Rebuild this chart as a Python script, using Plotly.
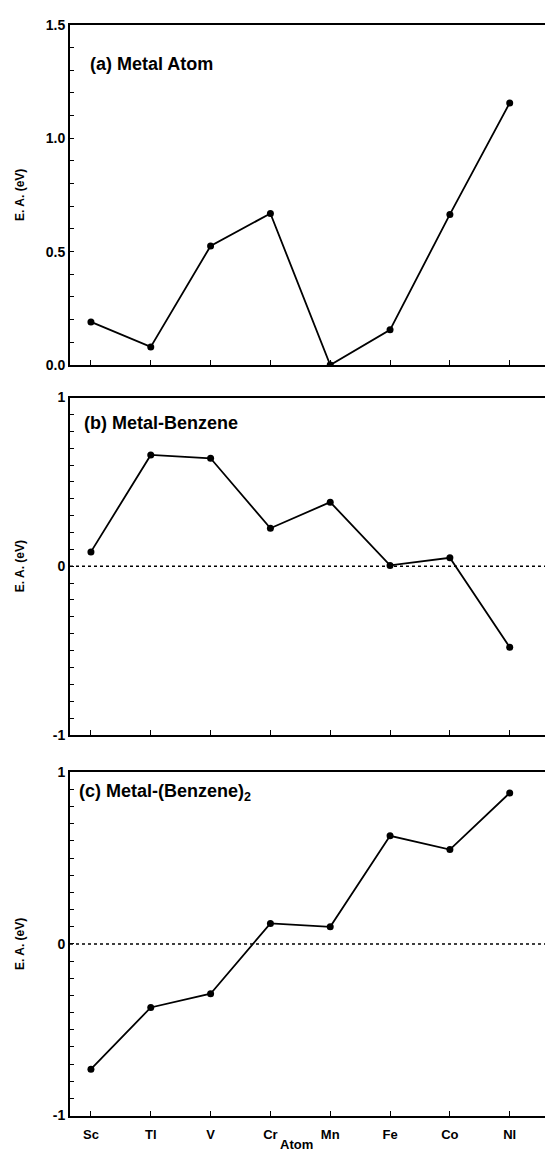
import plotly.graph_objects as go

atoms = ["Sc", "Ti", "V", "Cr", "Mn", "Fe", "Co", "Ni"]
tick_labels = ["Sc", "Tl", "V", "Cr", "Mn", "Fe", "Co", "Nl"]
ea_atom = [0.19, 0.08, 0.525, 0.668, 0.0, 0.155, 0.664, 1.155]
ea_benzene = [0.085, 0.66, 0.64, 0.225, 0.38, 0.005, 0.05, -0.48]
ea_bis = [-0.73, -0.37, -0.29, 0.12, 0.10, 0.63, 0.55, 0.88]
panel_titles = ["(a) Metal Atom", "(b) Metal-Benzene", "(c) Metal-(Benzene)<sub>2</sub>"]

# y tick positions (every 0.1) and which ones carry labels
ytick_a = [round(i * 0.1, 1) for i in range(0, 16)]
ytext_a = [f"{v:.1f}" if abs(v * 2 - round(v * 2)) < 1e-9 else "" for v in ytick_a]
ytick_bc = [round(-1 + i * 0.1, 1) for i in range(0, 21)]
ytext_bc = [str(int(round(v))) if abs(v - round(v)) < 1e-9 else "" for v in ytick_bc]

W, H = 545, 1165
FONT = "Liberation Sans, Arial, sans-serif"

def px(x):
    return x / W

def py(y):
    return 1 - y / H

boxes = [(17, 362), (395, 737), (775, 1123)]
x_left = 70
xidx = list(range(len(atoms)))

fig = go.Figure()
series = [ea_atom, ea_benzene, ea_bis]
for i, vals in enumerate(series):
    n = "" if i == 0 else str(i + 1)
    fig.add_trace(go.Scatter(
        x=xidx, y=vals, mode="lines+markers",
        line=dict(color="black", width=1.8),
        marker=dict(color="black", size=7),
        xaxis="x" + n, yaxis="y" + n, showlegend=False, hoverinfo="skip"))

layout = dict(
    width=W, height=H,
    margin=dict(l=0, r=0, t=0, b=0),
    paper_bgcolor="white", plot_bgcolor="white",
    font=dict(family=FONT, color="black", size=12),
    showlegend=False,
)

yranges = [[0, 1.5], [-1, 1], [-1, 1]]
yvals = [ytick_a, ytick_bc, ytick_bc]
ytexts = [ytext_a, ytext_bc, ytext_bc]

for i in range(3):
    n = "" if i == 0 else str(i + 1)
    top, bot = boxes[i]
    layout["xaxis" + n] = dict(
        domain=[px(x_left), 1.0],
        range=[-0.35, 7.59],
        anchor="y" + n,
        tickmode="array", tickvals=xidx,
        ticktext=tick_labels,
        showticklabels=(i == 2),
        ticks="inside", ticklen=5, tickwidth=1.2, tickcolor="black",
        showline=True, linecolor="black", linewidth=2, mirror=True,
        showgrid=False, zeroline=False,
        tickfont=dict(family=FONT, size=13, color="black", weight="bold"),
        ticklabelstandoff=6,
    )
    layout["yaxis" + n] = dict(
        domain=[py(bot), py(top)],
        range=yranges[i],
        anchor="x" + n,
        tickmode="array", tickvals=yvals[i], ticktext=ytexts[i],
        ticks="inside", ticklen=4, tickwidth=1.2, tickcolor="black",
        showline=True, linecolor="black", linewidth=2, mirror=False,
        showgrid=False, zeroline=False,
        tickfont=dict(family=FONT, size=14, color="black", weight="bold"),
    )

fig.update_layout(**layout)

annotations = []
title_pos = [(88, 57), (82, 421), (77, 795)]
for i in range(3):
    top, bot = boxes[i]
    annotations.append(dict(
        text=panel_titles[i], x=px(title_pos[i][0]), y=py(title_pos[i][1]),
        xref="paper", yref="paper", xanchor="left", yanchor="middle",
        showarrow=False, font=dict(family=FONT, size=18, color="black", weight="bold")))
    annotations.append(dict(
        text="E. A. (eV)", x=px(20), y=py((top + bot) / 2),
        xref="paper", yref="paper", xanchor="center", yanchor="middle",
        textangle=-90, showarrow=False,
        font=dict(family=FONT, size=12, color="black", weight="bold")))
annotations.append(dict(
    text="Atom", x=px(296), y=py(1152),
    xref="paper", yref="paper", xanchor="center", yanchor="middle",
    showarrow=False, font=dict(family=FONT, size=13, color="black", weight="bold")))
fig.update_layout(annotations=annotations)

for n in ["2", "3"]:
    fig.add_shape(type="line", xref="x" + n + " domain", yref="y" + n,
                  x0=0, x1=1, y0=0, y1=0,
                  line=dict(color="black", width=1.5, dash="dot"))

fig.write_html("out.html")
